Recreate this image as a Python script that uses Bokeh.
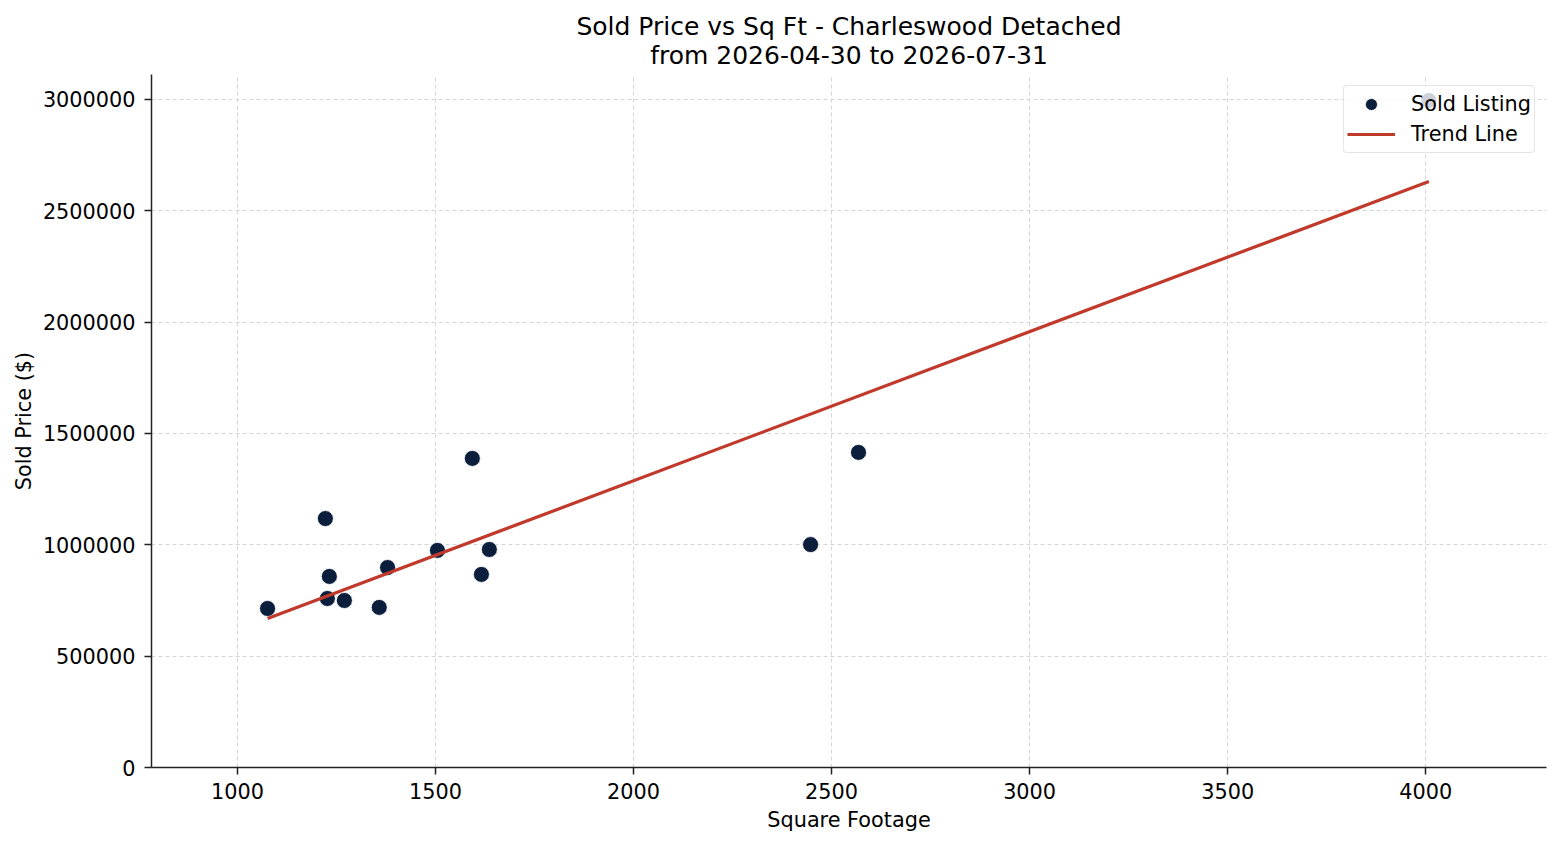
from bokeh.plotting import figure
from bokeh.models import (Range1d, FixedTicker, BasicTickFormatter, Title, Legend, LegendItem)
from bokeh.embed import file_html
from bokeh.resources import INLINE

# Data
sqft = [1076, 1222, 1232, 1227, 1270, 1358, 1379, 1505, 1593, 1616, 1636, 2447, 2568, 4008]
price = [714000, 1118000, 858000, 759000, 750000, 719000, 898000, 975000, 1388000,
         867000, 979000, 1001000, 1415000, 2995000]
trend_x = [1076, 4008]
trend_y = [669000, 2632000]
x_ticks = [1000, 1500, 2000, 2500, 3000, 3500, 4000]
y_ticks = [0, 500000, 1000000, 1500000, 2000000, 2500000, 3000000]
title_lines = ["Sold Price vs Sq Ft - Charleswood Detached", "from 2026-04-30 to 2026-07-31"]

FONT = "DejaVu Sans"
TICK_FS = "20.8px"

p = figure(width=1552, height=837, output_backend="svg", toolbar_location=None,
           x_range=Range1d(783, 4305), y_range=Range1d(0, 3112000),
           min_border_left=151, min_border_right=6, min_border_top=74, min_border_bottom=70)
p.title = None
p.outline_line_color = None
p.background_fill_color = "white"

title = Title(text="\n".join(title_lines), align="center", text_align="center",
              text_font=FONT, text_font_size="25px", text_font_style="normal",
              text_color="black", text_line_height=1.0, standoff=9)
p.add_layout(title, "above")

for ax in (p.xaxis[0], p.yaxis[0]):
    ax.axis_line_color = "#222222"
    ax.axis_line_width = 1.5
    ax.major_tick_line_color = "#222222"
    ax.major_tick_line_width = 1.5
    ax.major_tick_out = 7
    ax.major_tick_in = 0
    ax.minor_tick_line_color = None
    ax.major_label_text_font = FONT
    ax.major_label_text_font_size = TICK_FS
    ax.major_label_text_color = "black"
    ax.axis_label_text_font = FONT
    ax.axis_label_text_font_size = TICK_FS
    ax.axis_label_text_font_style = "normal"
    ax.axis_label_text_color = "black"

p.xaxis.ticker = FixedTicker(ticks=x_ticks)
p.yaxis.ticker = FixedTicker(ticks=y_ticks)
p.yaxis.formatter = BasicTickFormatter(use_scientific=False)
p.xaxis.axis_label = "Square Footage"
p.yaxis.axis_label = "Sold Price ($)"
p.xaxis.major_label_standoff = 8
p.yaxis.major_label_standoff = 9
p.xaxis.axis_label_standoff = 6
p.yaxis.axis_label_standoff = 4

p.grid.grid_line_color = "#d0d0d0"
p.grid.grid_line_dash = "4 3"
p.grid.grid_line_width = 1
p.grid.grid_line_alpha = 0.9

pts = p.scatter(sqft, price, size=16, marker="circle", fill_color="#0b1f3d",
                line_color="white", line_width=0.8)
ln = p.line(trend_x, trend_y, line_color="#c0392b", line_width=3.2)

legend = Legend(items=[LegendItem(label="Sold Listing", renderers=[pts]),
                       LegendItem(label="Trend Line", renderers=[ln])],
                location="top_right")
legend.label_text_font = FONT
legend.label_text_font_size = TICK_FS
legend.label_text_color = "black"
legend.border_line_color = "#cccccc"
legend.border_line_width = 1.5
legend.border_radius = 4
legend.background_fill_color = "white"
legend.background_fill_alpha = 0.8
legend.margin = 11
legend.padding = 3
legend.spacing = 0
legend.glyph_width = 48
legend.glyph_height = 30
legend.label_height = 30
legend.label_standoff = 16
p.add_layout(legend, "center")

open("out.html", "w").write(file_html(p, INLINE))
